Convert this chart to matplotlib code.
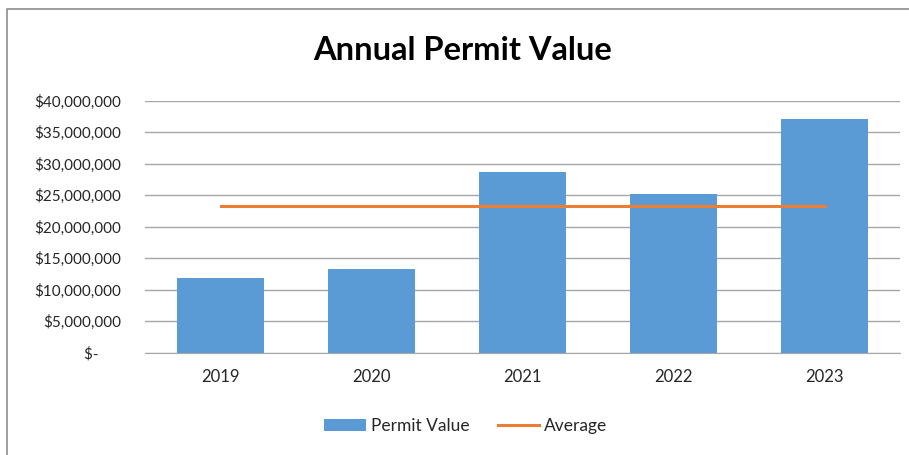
import matplotlib as mpl
mpl.rcParams['font.family'] = ['Lato', 'DejaVu Sans']

import matplotlib.pyplot as plt
from matplotlib.ticker import FuncFormatter, MultipleLocator
from matplotlib.lines import Line2D

years = ['2019', '2020', '2021', '2022', '2023']
permit_value = [11800000, 13300000, 28600000, 25200000, 37000000]
average = [23200000, 23200000, 23200000, 23200000, 23200000]

blue = '#5B9BD5'
orange = '#ED7D31'
grid = '#A6A6A6'

fig = plt.figure(figsize=(9.09, 4.55), dpi=100)
ax = fig.add_axes([145/909, (455-352.5)/455, 755/909, 252/455])

x = range(len(years))
bars = ax.bar(x, permit_value, width=0.57, color=blue, label='Permit Value', zorder=2)
line, = ax.plot(x, average, color=orange, linewidth=2.2, label='Average', zorder=3)

ax.set_xlim(-0.5, 4.5)
ax.set_ylim(0, 40000000)
ax.yaxis.set_major_locator(MultipleLocator(5000000))


def money(v, pos):
    if v == 0:
        return '$-      '
    return '${:,.0f}'.format(v)


ax.yaxis.set_major_formatter(FuncFormatter(money))
ax.set_xticks(list(x))
ax.set_xticklabels(years)
ax.tick_params(axis='both', length=0, colors='#262626')
ax.tick_params(axis='y', pad=17, labelsize=11)
ax.tick_params(axis='x', pad=12, labelsize=12)

ax.grid(axis='y', color=grid, linewidth=1, zorder=0)
ax.set_axisbelow(True)
for s in ['left', 'right', 'top']:
    ax.spines[s].set_visible(False)
ax.spines['bottom'].set_color(grid)

fig.text(463/909, 1-50/455, 'Annual Permit Value', ha='center', va='center',
         fontsize=23.5, fontweight='bold', color='black')

fig.legend([bars, line], ['Permit Value', 'Average'], loc='center',
           bbox_to_anchor=(466/909, 1-426/455), ncol=2,
           frameon=False, fontsize=12.5, handlelength=2.4, handleheight=0.7,
           handletextpad=0.3, columnspacing=1.6, labelcolor='#262626')

# chart frame (left and top edges only are inside the picture)
fig.lines.append(Line2D([7/909, 7/909, 1], [0, 1-9/455, 1-9/455],
                        transform=fig.transFigure, color='#8c8c8c', linewidth=1.2))

plt.savefig('out.png')
